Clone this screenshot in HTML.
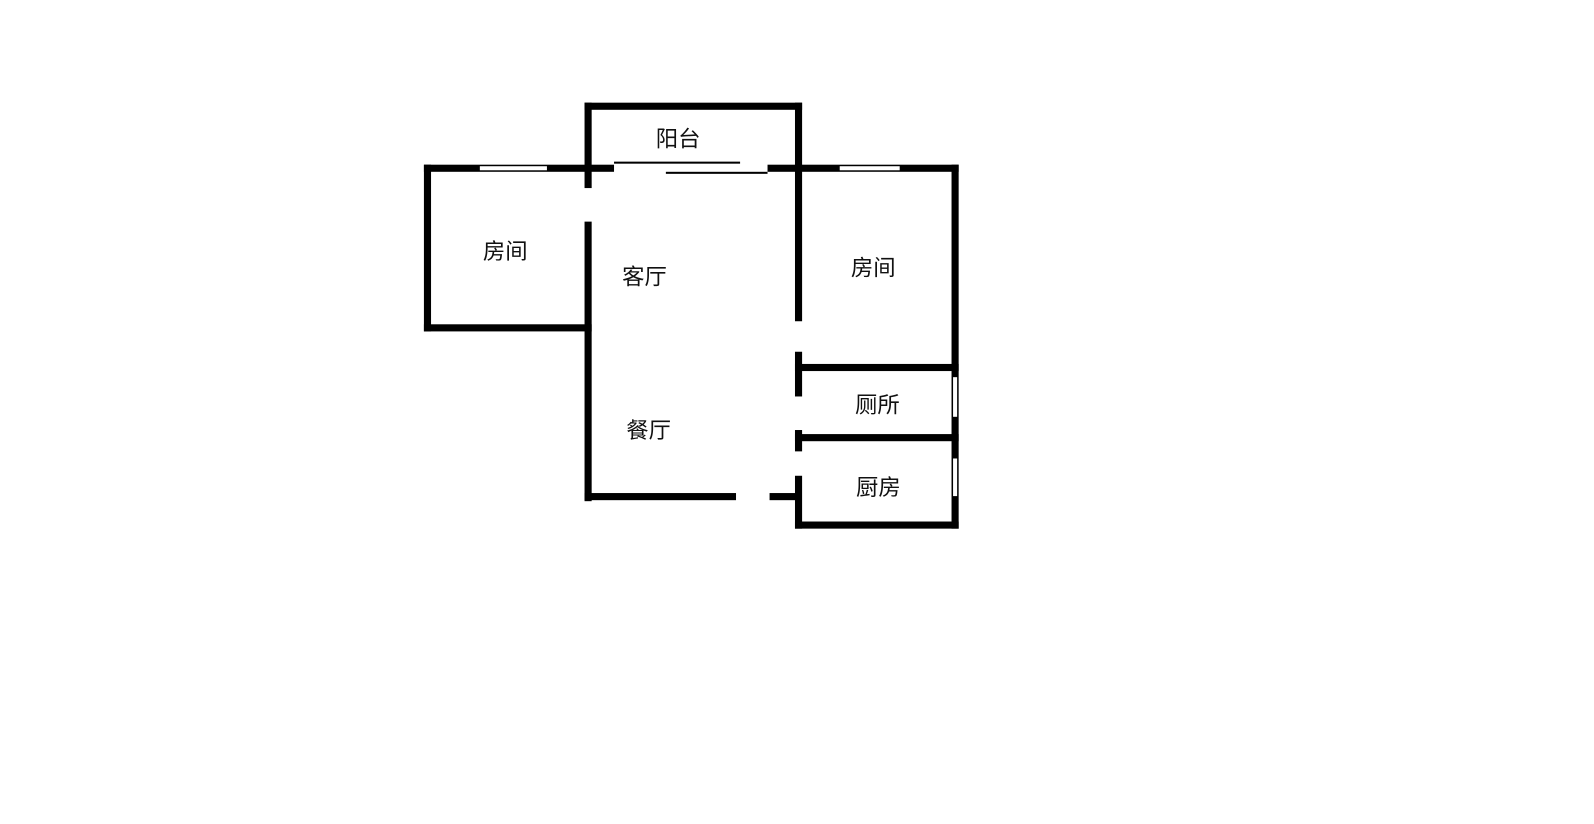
<!DOCTYPE html>
<html><head><meta charset="utf-8"><style>
body{margin:0;width:1594px;height:819px;background:#fff;overflow:hidden}
</style></head><body>
<svg width="1594" height="819" xmlns="http://www.w3.org/2000/svg">
<g transform="scale(1.0166)">
<g fill="#000">
<rect x="575" y="101" width="214" height="7"/>
<rect x="575" y="101" width="7" height="84"/>
<rect x="782" y="101" width="7" height="215"/>
<rect x="417" y="162" width="187" height="7"/>
<rect x="417" y="162" width="7" height="164"/>
<rect x="417" y="319" width="165" height="7"/>
<rect x="575" y="218" width="7" height="275"/>
<rect x="575" y="485" width="149" height="7"/>
<rect x="757" y="485" width="30" height="7"/>
<rect x="755" y="162" width="188" height="7"/>
<rect x="936" y="162" width="7" height="358"/>
<rect x="782" y="346" width="7" height="44"/>
<rect x="782" y="423" width="7" height="21"/>
<rect x="782" y="468" width="7" height="52"/>
<rect x="782" y="358" width="161" height="7"/>
<rect x="782" y="427" width="161" height="7"/>
<rect x="782" y="513" width="161" height="7"/>
</g>
<rect x="472" y="163.5" width="66" height="4" fill="#fff"/>
<rect x="826" y="163.5" width="59" height="4" fill="#fff"/>
<rect x="937.5" y="371" width="4" height="39" fill="#fff"/>
<rect x="937.5" y="451" width="4" height="37" fill="#fff"/>
<rect x="604" y="159" width="124" height="2" fill="#000"/>
<rect x="655" y="169" width="100" height="2" fill="#000"/>
<g font-family="'Liberation Sans','Noto Sans CJK SC',sans-serif" font-size="22" fill="#111" text-anchor="middle">
<text x="667" y="144">阳台</text>
<text x="497" y="255">房间</text>
<text x="634" y="280">客厅</text>
<text x="859" y="271">房间</text>
<text x="863" y="406">厕所</text>
<text x="638" y="431">餐厅</text>
<text x="864" y="487">厨房</text>
</g>
</g>
</svg>
</body></html>
